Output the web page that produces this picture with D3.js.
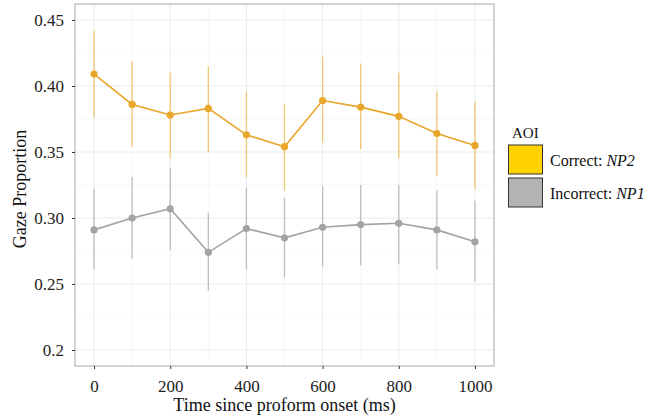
<!DOCTYPE html>
<html>
<head>
<meta charset="utf-8">
<script src="https://cdn.jsdelivr.net/npm/d3@7"></script>
<style>
  html, body { margin: 0; padding: 0; background: #fff; }
  svg, svg text { font-family: "Liberation Serif", "Times New Roman", serif; }
</style>
</head>
<body>
<div id="chart"></div>
<script>
// Time bins (ms)
const times = [0, 100, 200, 300, 400, 500, 600, 700, 800, 900, 1000];

// Correct: NP2
const correctMean = [0.409, 0.386, 0.378, 0.383, 0.363, 0.354, 0.389, 0.384, 0.377, 0.364, 0.355];
const correctLow  = [0.376, 0.354, 0.345, 0.350, 0.331, 0.321, 0.357, 0.352, 0.345, 0.332, 0.322];
const correctHigh = [0.442, 0.419, 0.410, 0.415, 0.396, 0.386, 0.422, 0.417, 0.410, 0.396, 0.388];

// Incorrect: NP1
const incorrectMean = [0.291, 0.300, 0.307, 0.274, 0.292, 0.285, 0.293, 0.295, 0.296, 0.291, 0.282];
const incorrectLow  = [0.261, 0.269, 0.276, 0.245, 0.261, 0.255, 0.263, 0.264, 0.265, 0.261, 0.252];
const incorrectHigh = [0.322, 0.331, 0.338, 0.304, 0.323, 0.315, 0.324, 0.325, 0.325, 0.321, 0.313];

const xTicks = [0, 200, 400, 600, 800, 1000];
const yTicks = [0.2, 0.25, 0.30, 0.35, 0.40, 0.45];
const yTickLabels = ['0.2', '0.25', '0.30', '0.35', '0.40', '0.45'];

const legendLabels = [['Correct: ', 'NP2'], ['Incorrect: ', 'NP1']];

const W = 657, H = 418;
const margin = { top: 4, right: 163, bottom: 52, left: 75 };
const width = W - margin.left - margin.right;
const height = H - margin.top - margin.bottom;
const serif = '"Liberation Serif", "Times New Roman", serif';

const svg = d3.select('#chart').append('svg')
    .attr('width', W)
    .attr('height', H);

const g = svg.append('g')
    .attr('transform', `translate(${margin.left},${margin.top})`);

// Scale
const x = d3.scaleLinear().domain([-50, 1050]).range([0, width]);
const y = d3.scaleLinear().domain([0.1879, 0.4621]).range([height, 0]);

// griglia minore
const xMinor = [100, 300, 500, 700, 900];
const yMinor = [0.225, 0.275, 0.325, 0.375, 0.425];
g.selectAll('.xminor').data(xMinor).enter().append('line')
    .attr('x1', d => x(d)).attr('x2', d => x(d))
    .attr('y1', 0).attr('y2', height)
    .attr('stroke', '#f3f3f3').attr('stroke-width', 0.6);
g.selectAll('.yminor').data(yMinor).enter().append('line')
    .attr('y1', d => y(d)).attr('y2', d => y(d))
    .attr('x1', 0).attr('x2', width)
    .attr('stroke', '#f3f3f3').attr('stroke-width', 0.6);

// griglia maggiore
g.selectAll('.xmajor').data(xTicks).enter().append('line')
    .attr('x1', d => x(d)).attr('x2', d => x(d))
    .attr('y1', 0).attr('y2', height)
    .attr('stroke', '#ebebeb').attr('stroke-width', 1);
g.selectAll('.ymajor').data(yTicks).enter().append('line')
    .attr('y1', d => y(d)).attr('y2', d => y(d))
    .attr('x1', 0).attr('x2', width)
    .attr('stroke', '#ebebeb').attr('stroke-width', 1);

// Serie
const series = [
    { mean: correctMean, low: correctLow, high: correctHigh, color: '#e8a62a', bar: '#efc673' },
    { mean: incorrectMean, low: incorrectLow, high: incorrectHigh, color: '#a3a3a3', bar: '#bdbdbd' }
];

series.forEach(s => {
    const pts = times.map((t, i) => ({ t, m: s.mean[i], lo: s.low[i], hi: s.high[i] }));

    g.selectAll(null).data(pts).enter().append('line')
        .attr('x1', d => x(d.t)).attr('x2', d => x(d.t))
        .attr('y1', d => y(d.lo)).attr('y2', d => y(d.hi))
        .attr('stroke', s.bar).attr('stroke-width', 1.3);

    g.append('path')
        .datum(pts)
        .attr('fill', 'none')
        .attr('stroke', s.color)
        .attr('stroke-width', 1.6)
        .attr('d', d3.line().x(d => x(d.t)).y(d => y(d.m)));

    g.selectAll(null).data(pts).enter().append('circle')
        .attr('cx', d => x(d.t)).attr('cy', d => y(d.m))
        .attr('r', 3.6)
        .attr('fill', s.color);
});

// Bordo pannello
g.append('rect')
    .attr('x', 0).attr('y', 0)
    .attr('width', width).attr('height', height)
    .attr('fill', 'none')
    .attr('stroke', '#a8a8a8').attr('stroke-width', 1);

// Assi
const xAxis = g.append('g')
    .attr('transform', `translate(0,${height})`)
    .call(d3.axisBottom(x).tickValues(xTicks).tickSize(3).tickPadding(11).tickFormat(d3.format('d')));
const yAxis = g.append('g')
    .call(d3.axisLeft(y).tickValues(yTicks).tickSize(3).tickPadding(8)
        .tickFormat((d, i) => yTickLabels[i]));

[xAxis, yAxis].forEach(a => {
    a.attr('font-family', null).attr('font-size', null);
    a.select('.domain').remove();
    a.selectAll('.tick line').attr('stroke', '#333');
    a.selectAll('.tick text')
        .attr('fill', '#222')
        .style('font-size', '17px')
        .style('font-family', serif);
});

// Titoli assi
svg.append('text')
    .attr('x', margin.left + width / 2)
    .attr('y', 411)
    .attr('text-anchor', 'middle')
    .style('font-size', '18px')
    .attr('fill', '#111')
    .text('Time since proform onset (ms)');

svg.append('text')
    .attr('transform', `translate(26,${margin.top + height / 2 + 4}) rotate(-90)`)
    .attr('text-anchor', 'middle')
    .style('font-size', '18px')
    .attr('fill', '#111')
    .text('Gaze Proportion');

// Legenda
const legend = svg.append('g').attr('transform', 'translate(508,0)');
legend.append('text')
    .attr('x', 4).attr('y', 138)
    .style('font-size', '15px')
    .attr('fill', '#111')
    .text('AOI');

const keyFills = ['#ffd300', '#b3b3b3'];
legendLabels.forEach((lab, i) => {
    const ky = 145 + i * 33;
    legend.append('rect')
        .attr('x', 0.5).attr('y', ky)
        .attr('width', 34).attr('height', 29)
        .attr('fill', keyFills[i])
        .attr('stroke', '#333').attr('stroke-width', 1);
    const t = legend.append('text')
        .attr('x', 42).attr('y', ky + 21)
        .style('font-size', '16px')
        .attr('fill', '#111');
    t.append('tspan').text(lab[0]);
    t.append('tspan').attr('font-style', 'italic').text(lab[1]);
});
</script>
</body>
</html>
